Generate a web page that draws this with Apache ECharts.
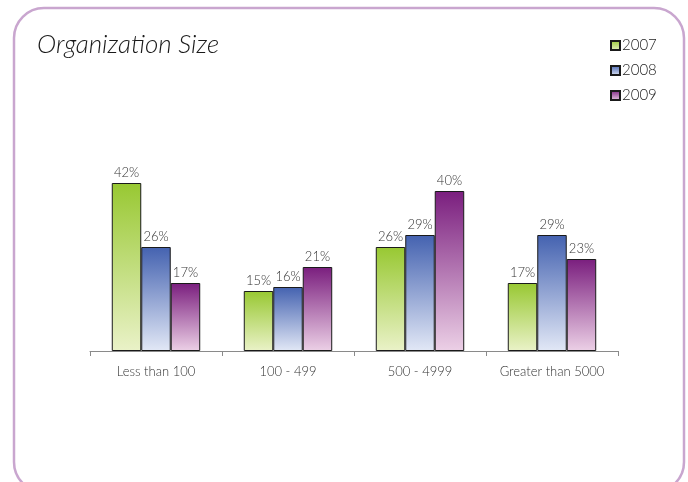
<!DOCTYPE html>
<html><head><meta charset="utf-8">
<script src="https://cdn.jsdelivr.net/npm/echarts@6/dist/echarts.min.js"></script>
<style>html,body{margin:0;padding:0;background:#fff}#c{width:688px;height:482px}</style>
</head><body><div id="c"></div>
<script>
const categories = ['Less than 100', '100 - 499', '500 - 4999', 'Greater than 5000'];
const seriesNames = ['2007', '2008', '2009'];
const values2007 = [42, 15, 26, 17];
const values2008 = [26, 16, 29, 29];
const values2009 = [17, 21, 40, 23];
const titleText = 'Organization Size';

const fonts = 'Lato, "Open Sans", "DejaVu Sans", sans-serif';
function grad(top, bottom) {
  return new echarts.graphic.LinearGradient(0, 0, 0, 1, [
    {offset: 0, color: top}, {offset: 1, color: bottom}
  ]);
}
const fills = [
  grad('#98c832', '#eaf2c8'),
  grad('#4462b0', '#e2e8f6'),
  grad('#7a1e7e', '#ecd0e6')
];
const data = [values2007, values2008, values2009];

const chart = echarts.init(document.getElementById('c'), null, {renderer: 'canvas'});
chart.setOption({
  animation: false,
  backgroundColor: '#fff',
  graphic: [{
    type: 'rect', silent: true, z: -1,
    shape: {x: 14, y: 8, width: 670, height: 484, r: 30},
    style: {fill: 'none', stroke: '#c9a6cf', lineWidth: 2.5}
  }],
  title: {
    text: titleText, left: 32, top: 27,
    textStyle: {fontFamily: fonts, fontStyle: 'italic', fontWeight: 300, fontSize: 26, color: '#1a1a1a'}
  },
  legend: {
    orient: 'vertical', left: 605, top: 33, itemGap: 10,
    itemWidth: 9, itemHeight: 9, icon: 'rect',
    textStyle: {fontFamily: fonts, fontSize: 15, fontWeight: 300, color: '#222', padding: [0,0,0,-3]},
    data: seriesNames
  },
  grid: {left: 90, right: 70, top: 151, bottom: 131},
  xAxis: {
    type: 'category', data: categories,
    axisLine: {lineStyle: {color: '#8a8a8a', width: 1}},
    axisTick: {show: true, length: 5, lineStyle: {color: '#8a8a8a'}},
    axisLabel: {interval: 0, fontFamily: fonts, fontSize: 13, fontWeight: 300, color: '#333', margin: 14}
  },
  yAxis: {type: 'value', min: 0, max: 50, show: false, splitLine: {show: false}},
  series: seriesNames.map((n, i) => ({
    name: n, type: 'bar', data: data[i],
    barGap: '0%', barCategoryGap: '33%',
    itemStyle: {color: fills[i], borderColor: '#1a1a1a', borderWidth: 1},
    label: {show: true, position: 'top', distance: 4, formatter: '{c}%',
      fontFamily: fonts, fontSize: 13, fontWeight: 300, color: '#333'}
  }))
});
</script></body></html>
